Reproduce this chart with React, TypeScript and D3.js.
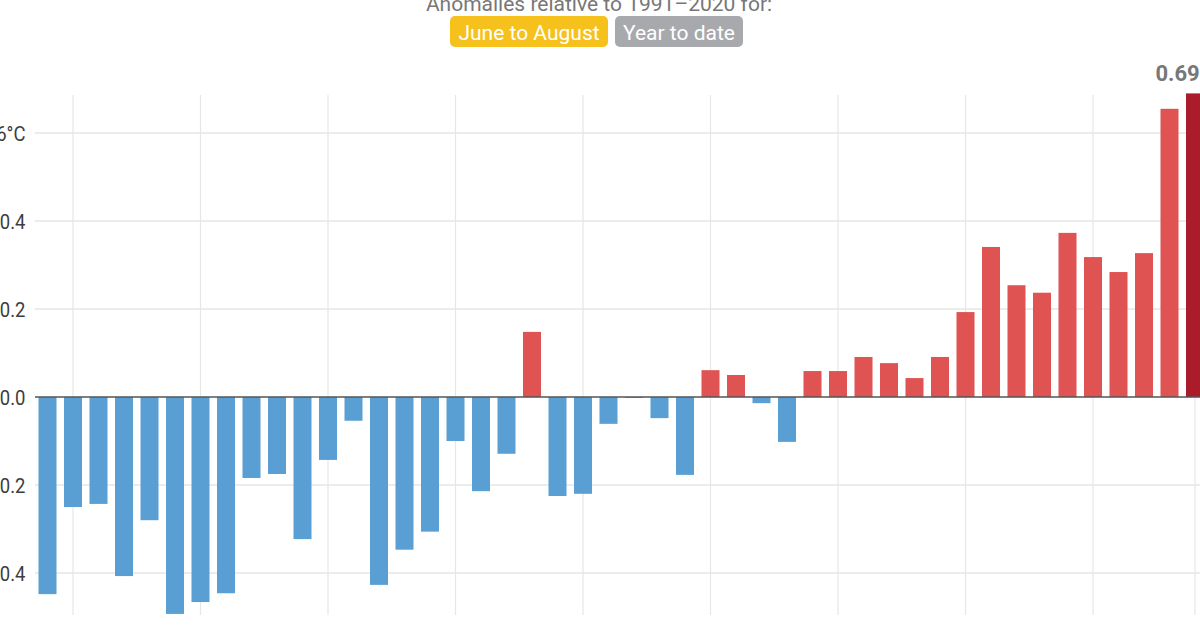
import React from "react";
import * as d3 from "d3";

const years: number[] = d3.range(1979, 2025);
const anomalies: number[] = [
  -0.448, -0.25, -0.243, -0.407, -0.28, -0.493, -0.466, -0.446, -0.184, -0.175,
  -0.323, -0.143, -0.054, -0.427, -0.347, -0.306, -0.1, -0.214, -0.129, 0.148,
  -0.225, -0.22, -0.061, -0.002, -0.048, -0.177, 0.061, 0.05, -0.014, -0.102,
  0.059, 0.059, 0.091, 0.077, 0.043, 0.091, 0.193, 0.341, 0.254, 0.237,
  0.373, 0.318, 0.284, 0.327, 0.655, 0.69,
];
const yTicks: number[] = [-0.4, -0.2, 0, 0.2, 0.4, 0.6];
const yTickLabels: string[] = ["−0.4", "−0.2", "0.0", "0.2", "0.4", "0.6°C"];
const xGridYears: number[] = [1980, 1985, 1990, 1995, 2000, 2005, 2010, 2015, 2020, 2024];
const headerText = "Anomalies relative to 1991–2020 for:";
const buttonLabels: string[] = ["June to August", "Year to date"];
const highlightLabel = "0.69°C";

const W = 1200;
const H = 630;
const FONT = "Roboto, 'Noto Sans', sans-serif";

export default function App() {
  const x = d3.scaleLinear().domain([1979, 2024]).range([47.5, 1195]);
  const y = d3.scaleLinear().domain([0, 0.6]).range([397, 133]);
  const barW = 18;
  const plotLeft = 35;
  const plotTop = 95;
  const plotBottom = 615;
  const lastIdx = years.length - 1;

  const colorFor = (v: number, i: number) =>
    i === lastIdx ? "#ab1c2a" : v >= 0 ? "#e05353" : "#5a9fd3";

  return (
    <svg
      width={W}
      height={H}
      style={{ position: "absolute", left: 0, top: 0, background: "#fff" }}
      fontFamily={FONT}
    >
      {/* header */}
      <text x={599} y={11} textAnchor="middle" fontSize={21} fill="#777">
        {headerText}
      </text>
      <rect x={450} y={16} width={158} height={31} rx={5} fill="#f6c11c" />
      <text x={529} y={39.5} textAnchor="middle" fontSize={21} fill="#fff">
        {buttonLabels[0]}
      </text>
      <rect x={615} y={16} width={128} height={31} rx={5} fill="#a7a9ad" />
      <text x={679} y={39.5} textAnchor="middle" fontSize={21} fill="#fff">
        {buttonLabels[1]}
      </text>

      {/* vertical gridlines */}
      {xGridYears.map((yr) => (
        <line
          key={"vx" + yr}
          x1={x(yr)}
          x2={x(yr)}
          y1={plotTop}
          y2={plotBottom}
          stroke="#e6e6e6"
          strokeWidth={1.2}
        />
      ))}

      {/* horizontal gridlines + labels */}
      {yTicks.map((t, i) => (
        <g key={"yt" + i}>
          {t !== 0 && (
            <line
              x1={plotLeft}
              x2={W}
              y1={y(t)}
              y2={y(t)}
              stroke="#e6e6e6"
              strokeWidth={1.5}
            />
          )}
          <text
            transform={`translate(25.5, ${y(t) + 7.5}) scale(0.88, 1)`}
            textAnchor="end"
            fontSize={21}
            fill="#3d3d3d"
          >
            {yTickLabels[i]}
          </text>
        </g>
      ))}

      {/* bars */}
      {anomalies.map((v, i) => (
        <rect
          key={"b" + i}
          x={x(years[i]) - barW / 2}
          y={Math.min(y(v), y(0))}
          width={barW}
          height={Math.abs(y(v) - y(0))}
          fill={colorFor(v, i)}
        />
      ))}

      {/* zero line */}
      <line
        x1={plotLeft}
        x2={W}
        y1={y(0)}
        y2={y(0)}
        stroke="#555"
        strokeWidth={1.5}
      />

      {/* highlight label */}
      <text
        x={x(years[lastIdx]) - 6}
        y={y(anomalies[lastIdx]) - 12}
        textAnchor="middle"
        fontSize={22}
        fontWeight="bold"
        fill="#777"
      >
        {highlightLabel}
      </text>
    </svg>
  );
}
